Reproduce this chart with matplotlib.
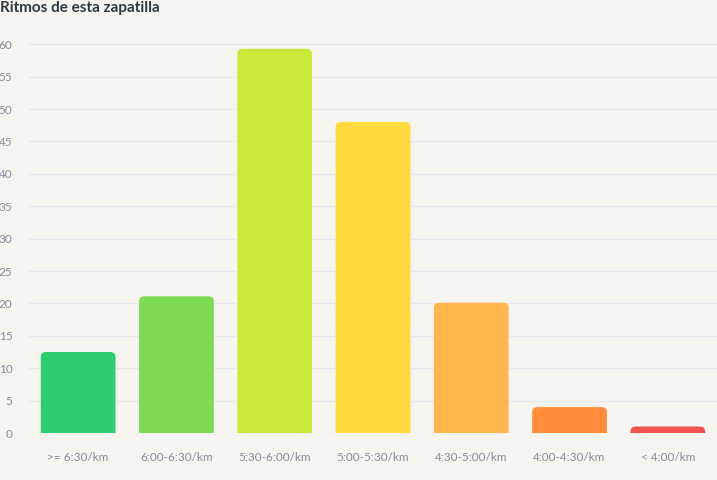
import matplotlib.pyplot as plt
from matplotlib.patches import FancyBboxPatch

plt.rcParams['font.family'] = ['Lato', 'DejaVu Sans']

categorias = [">= 6:30/km", "6:00-6:30/km", "5:30-6:00/km", "5:00-5:30/km",
              "4:30-5:00/km", "4:00-4:30/km", "< 4:00/km"]
valores = [12.5, 21.1, 59.3, 48.0, 20.1, 4.0, 1.0]
colores = ["#2ecc71", "#7ed957", "#c8e83c", "#ffd93d", "#ffb74d", "#ff8c3a", "#ef5350"]
ticks_y = [0, 5, 10, 15, 20, 25, 30, 35, 40, 45, 50, 55, 60]

fondo = "#f5f4ef"
fig = plt.figure(figsize=(7.17, 4.8), dpi=100, facecolor=fondo)
ax = fig.add_axes([29/717, 47/480, 1 - 29/717, 398.5/480])
ax.set_facecolor(fondo)

ancho = 0.76
barras = ax.bar(range(len(valores)), valores, width=ancho, color=colores)
# reemplazar por barras con esquinas redondeadas
for b, c in zip(barras, colores):
    b.set_visible(False)
    x0 = b.get_x()
    h = b.get_height()
    p = FancyBboxPatch((x0, -3), ancho, h + 3,
                       boxstyle="round,pad=0,rounding_size=0.055",
                       mutation_aspect=14, facecolor=c, edgecolor="none")
    ax.add_patch(p)

ax.set_xlim(-0.5, len(valores) - 0.5)
ax.set_ylim(0, 61.5)
ax.set_yticks(ticks_y)
ax.set_xticks(range(len(categorias)))
ax.set_xticklabels(categorias)
ax.grid(axis="y", color="#e6e6ee", linewidth=1)
ax.set_axisbelow(True)
for s in ax.spines.values():
    s.set_visible(False)
ax.tick_params(axis="both", length=0, labelsize=8.5, labelcolor="#868b9a")
ax.tick_params(axis="y", pad=12)
ax.tick_params(axis="x", pad=14)

fig.text(0.0, 1 - 8/480, "Ritmos de esta zapatilla", fontsize=11,
         fontweight="bold", color="#2d3a45", va="center", ha="left")

fig.savefig("out.png", dpi=100, facecolor=fondo)
